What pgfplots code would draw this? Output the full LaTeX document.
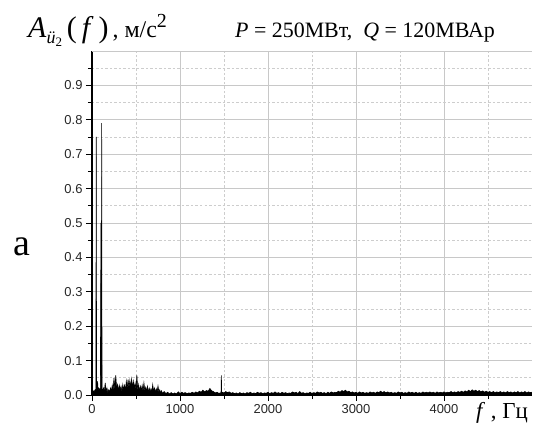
\documentclass[border=0pt]{standalone}
\usepackage{fontspec}
\setmainfont{Liberation Serif}
\newfontfamily\arial{Liberation Sans}
\usepackage{pgfplots}
\pgfplotsset{compat=1.18}
\definecolor{gridmaj}{HTML}{C8C8C8}
\definecolor{gridmin}{HTML}{CDCDCD}

\begin{document}
\begin{tikzpicture}
\begin{axis}[
  scale only axis,
  width=440bp, height=344bp,
  xmin=0, xmax=5000, ymin=0, ymax=1.0,
  axis x line*=bottom, axis y line*=left,
  axis line style={black, line width=1.3bp},
  xtick={0,1000,2000,3000,4000},
  minor xtick={500,1500,2500,3500,4500},
  ytick={0,0.1,0.2,0.3,0.4,0.5,0.6,0.7,0.8,0.9},
  minor ytick={0.05,0.15,0.25,0.35,0.45,0.55,0.65,0.75,0.85,0.95},
  tick align=outside,
  major tick length=6bp, minor tick length=4bp,
  tick style={black, line width=0.7bp},
  xmajorgrids, ymajorgrids, xminorgrids, yminorgrids,
  major grid style={gridmaj, line width=0.9bp},
  minor grid style={gridmin, line width=0.8bp, dash pattern=on 2.5bp off 2bp},
  tick label style={font=\arial\fontsize{13}{13}\selectfont, text=black!85},
  /pgf/number format/assume math mode=true,
  y tick label style={/pgf/number format/.cd, fixed, fixed zerofill, precision=1},
  x tick label style={/pgf/number format/.cd, fixed, 1000 sep={}},
  scaled ticks=false,
  clip=true,
]
\addplot[draw=black, fill=black, line width=0.6bp] coordinates {
(0,0.005)(4,0.07)(8,0.006)(15,0.012)(25,0.01)(35,0.015)(44,0.008)(48,0.75)(52,0.01)
(58,0.02)(64,0.04)(68,0.01)(75,0.02)(85,0.015)(95,0.02)(102,0.5)(106,0.02)(110,0.79)
(114,0.02)(120,0.01)
(130,0.02)(140,0.008)(150,0.035)(160,0.01)(170,0.02)(180,0.006)(190,0.015)(200,0.008)
(210,0.02)(220,0.01)(230,0.028)(240,0.012)(250,0.05)(260,0.015)(270,0.057)(280,0.018)
(290,0.03)(300,0.012)(310,0.028)(320,0.015)(330,0.025)(340,0.01)(350,0.03)(360,0.015)
(370,0.028)(380,0.012)(390,0.04)(400,0.018)(410,0.045)(420,0.02)(430,0.042)(440,0.022)
(450,0.046)(460,0.02)(470,0.04)(480,0.018)(490,0.035)(500,0.015)(510,0.058)(520,0.012)
(530,0.03)(540,0.01)(550,0.025)(560,0.012)(570,0.028)(580,0.01)(590,0.035)(600,0.012)
(610,0.022)(620,0.01)(630,0.025)(640,0.008)(650,0.02)(660,0.01)(670,0.018)(680,0.008)
(690,0.03)(700,0.01)(710,0.02)(720,0.008)(730,0.018)(740,0.01)(750,0.026)(760,0.008)
(770,0.015)(780,0.006)(790,0.012)(800,0.005)(820,0.01)(840,0.004)(860,0.008)(880,0.003)
(900,0.007)(920,0.003)(940,0.006)(960,0.003)(980,0.009)
(1000,0.004)(1020,0.008)(1040,0.005)(1060,0.007)(1080,0.004)(1100,0.006)(1120,0.005)
(1140,0.008)(1160,0.005)(1180,0.009)(1200,0.006)(1220,0.011)(1240,0.008)(1260,0.014)
(1280,0.009)(1300,0.013)(1320,0.011)(1340,0.019)(1360,0.012)(1380,0.01)(1400,0.006)
(1420,0.008)(1440,0.005)(1460,0.006)(1466,0.004)(1470,0.057)(1474,0.004)(1480,0.008)
(1500,0.006)(1520,0.01)(1540,0.007)(1560,0.009)(1580,0.005)(1600,0.007)(1620,0.004)
(1640,0.006)(1660,0.003)(1680,0.007)(1700,0.004)(1720,0.006)(1740,0.003)(1760,0.007)
(1780,0.005)(1800,0.008)(1820,0.004)(1840,0.006)(1860,0.004)(1880,0.008)(1900,0.005)
(1920,0.007)(1940,0.004)(1960,0.006)(1980,0.005)(2000,0.008)(2020,0.004)(2040,0.007)
(2060,0.005)(2080,0.009)(2100,0.005)(2120,0.007)(2140,0.004)(2160,0.008)(2180,0.005)
(2200,0.007)(2220,0.004)(2240,0.006)(2260,0.005)(2280,0.009)(2300,0.006)(2320,0.008)
(2340,0.004)(2360,0.01)(2380,0.005)(2400,0.007)(2420,0.004)(2440,0.006)(2460,0.005)
(2480,0.008)(2500,0.004)(2520,0.007)(2540,0.005)(2560,0.009)(2580,0.006)(2600,0.008)
(2620,0.005)(2640,0.007)(2660,0.004)(2680,0.008)(2700,0.005)(2720,0.009)(2740,0.006)
(2760,0.008)(2780,0.007)(2800,0.011)(2820,0.008)(2840,0.013)(2860,0.01)(2880,0.014)
(2900,0.009)(2920,0.011)(2940,0.007)(2960,0.009)(2980,0.006)(3000,0.008)(3020,0.005)
(3040,0.009)(3060,0.006)(3080,0.008)(3100,0.005)(3120,0.007)(3140,0.005)(3160,0.009)
(3180,0.006)(3200,0.008)(3220,0.005)(3240,0.009)(3260,0.007)(3280,0.011)(3300,0.007)
(3320,0.01)(3340,0.006)(3360,0.009)(3380,0.006)(3400,0.008)(3420,0.005)(3440,0.007)
(3460,0.005)(3480,0.009)(3500,0.006)(3520,0.008)(3540,0.005)(3560,0.007)(3580,0.005)
(3600,0.009)(3620,0.006)(3640,0.008)(3660,0.005)(3680,0.008)(3700,0.005)(3720,0.007)
(3740,0.005)(3760,0.009)(3780,0.006)(3800,0.008)(3820,0.006)(3840,0.009)(3860,0.006)
(3880,0.008)(3900,0.005)(3920,0.009)(3940,0.006)(3960,0.008)(3980,0.006)(4000,0.009)
(4020,0.006)(4040,0.008)(4060,0.007)(4080,0.01)(4100,0.007)(4120,0.009)(4140,0.007)
(4160,0.01)(4180,0.008)(4200,0.011)(4220,0.008)(4240,0.012)(4260,0.009)(4280,0.014)
(4300,0.01)(4320,0.015)(4340,0.011)(4360,0.014)(4380,0.01)(4400,0.013)(4420,0.009)
(4440,0.012)(4460,0.008)(4480,0.011)(4500,0.008)(4520,0.01)(4540,0.007)(4560,0.01)
(4580,0.007)(4600,0.009)(4620,0.007)(4640,0.01)(4660,0.007)(4680,0.009)(4700,0.006)
(4720,0.01)(4740,0.007)(4760,0.009)(4780,0.006)(4800,0.009)(4820,0.007)(4840,0.01)
(4860,0.006)(4880,0.009)(4900,0.007)(4920,0.01)(4940,0.006)(4960,0.009)(4980,0.007)
(5000,0.008)
} \closedcycle;
\draw[gridmaj, line width=0.9bp] (rel axis cs:0,1) -- (rel axis cs:1,1) -- (rel axis cs:1,0);
\end{axis}
% labels around the axis
\node[anchor=base west, inner sep=0pt] at (-64bp,357bp)
  {\fontsize{30}{30}\selectfont\textit{A}\raisebox{-6bp}{\fontsize{18}{18}\selectfont\textit{ü}\raisebox{-3bp}{\fontsize{13}{13}\selectfont 2}}\,(\,\textit{f}\,)\fontsize{24}{24}\selectfont\,, м/с\raisebox{10bp}{\fontsize{20}{20}\selectfont 2}};
\node[anchor=base west, inner sep=0pt] at (143bp,357bp)
  {\fontsize{22}{22}\selectfont\textit{P}\ =\ 250МВт,\ \ \textit{Q}\ =\ 120МВАр};
\node[anchor=base west, inner sep=0pt] at (384bp,-23bp)
  {\fontsize{23}{23}\selectfont\textit{f}\ , Гц};
\node[inner sep=0pt] at (-70bp,148bp) {\fontsize{38}{38}\selectfont а};
\pgfresetboundingbox
\path (-92bp,-31bp) rectangle (446bp,395bp);
\end{tikzpicture}
\end{document}
